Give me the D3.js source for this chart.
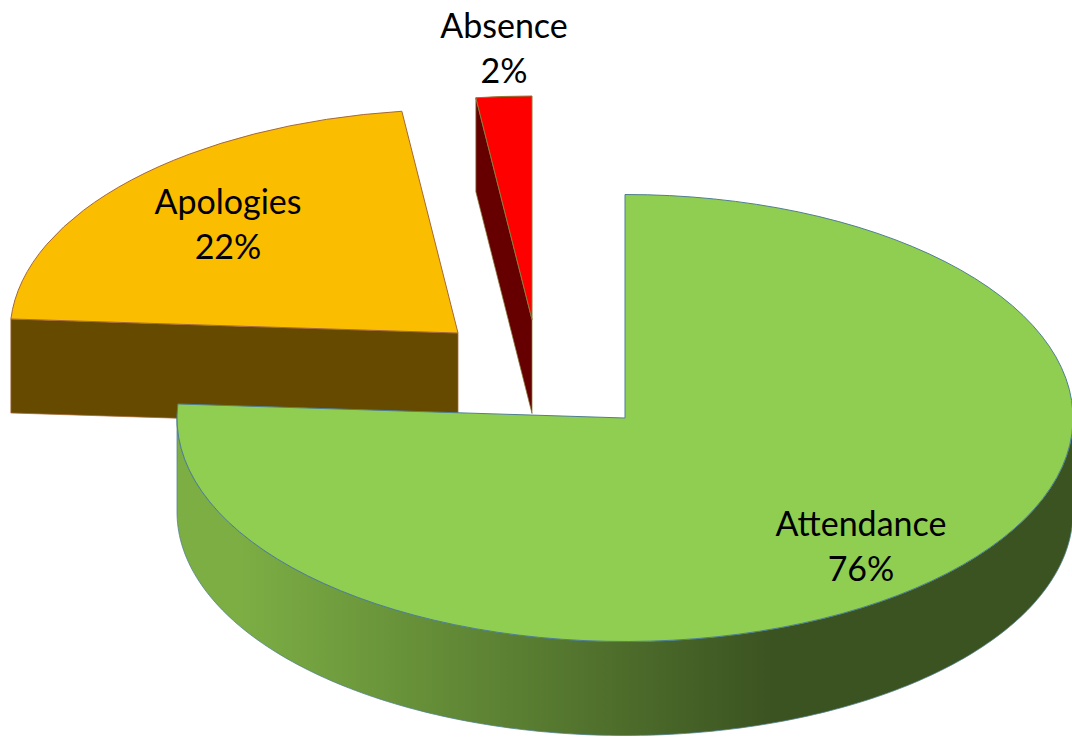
<!DOCTYPE html>
<html>
<head>
<meta charset="utf-8">
<title>Attendance</title>
<script src="https://d3js.org/d3.v7.min.js"></script>
<style>
body { margin: 0; background: #fff; }
svg { display: block; }
text { font-family: Lato, "Open Sans", sans-serif; font-size: 34px; fill: #000; text-anchor: middle; }
</style>
</head>
<body>
<div id="chart-area"></div>
<script>
var categories = ["Attendance", "Apologies", "Absence"];
var shares = [76, 22, 2];
var topColours = ["#8fce50", "#fbbd00", "#ff0000"];
var sideColours = ["#7cae48", "#654a00", "#660000"];
var edgeColours = ["#4f7f8f", "#a5683a", "#8a7a3a"];

var width = 1072;
var height = 738;
var rx = 448;
var ry = 223.5;
var depth = 94;

// where each exploded slice has its tip, and where its label sits
var tips = [[625, 418], [458, 333], [532, 319.5]];
var labelPos = [[861, 536], [228, 214], [504, 38]];
var lineGap = 45;

var x = d3.scaleLinear().domain([-1, 1]).range([-rx, rx]);
var y = d3.scaleLinear().domain([-1, 1]).range([-ry, ry]);

var pie = d3.pie().sort(null).value((d) => { return d; });
var arcs = pie(shares);

var topArc = d3.arc().innerRadius(0).outerRadius(rx);

var side = d3.area()
	.x((d) => { return d[0]; })
	.y0((d) => { return d[1]; })
	.y1((d) => { return d[1] + depth; });

// point on the rim, angle measured clockwise from 12 o'clock
function rim(a) {
	return [x(Math.sin(a)), y(-Math.cos(a))];
}

var svg = d3.select("#chart-area")
	.append("svg")
	.attr("width", width)
	.attr("height", height);

var grad = svg.append("defs").append("linearGradient")
	.attr("id", "wall")
	.attr("gradientUnits", "userSpaceOnUse")
	.attr("x1", -rx).attr("x2", rx)
	.attr("y1", 0).attr("y2", 0);
grad.append("stop").attr("offset", "0.07").attr("stop-color", "#7cae44");
grad.append("stop").attr("offset", "0.665").attr("stop-color", "#3b5321");

// drawn back to front: Apologies, Absence, Attendance on top
[1, 2, 0].forEach((i) => {
	var d = arcs[i];
	var g = svg.append("g")
		.attr("transform", "translate(" + tips[i][0] + ", " + tips[i][1] + ")");

	var wall;
	if (i === 0) {
		wall = d3.range(90, 270.5, 1).map((deg) => { return rim(deg * Math.PI / 180); });
	} else {
		wall = [rim(d.startAngle), [0, 0]];
	}

	g.append("path")
		.attr("d", side(wall))
		.attr("fill", i === 0 ? "url(#wall)" : sideColours[i])
		.attr("stroke", edgeColours[i])
		.attr("stroke-width", 0.75);

	g.append("path")
		.attr("d", topArc(d))
		.attr("transform", "scale(1, " + (ry / rx) + ")")
		.attr("fill", topColours[i])
		.attr("stroke", edgeColours[i])
		.attr("stroke-width", 1)
		.attr("vector-effect", "non-scaling-stroke");
});

categories.forEach((c, i) => {
	svg.append("text")
		.attr("x", labelPos[i][0])
		.attr("y", labelPos[i][1])
		.text(c);
	svg.append("text")
		.attr("x", labelPos[i][0])
		.attr("y", labelPos[i][1] + lineGap)
		.text(shares[i] + "%");
});
</script>
</body>
</html>
